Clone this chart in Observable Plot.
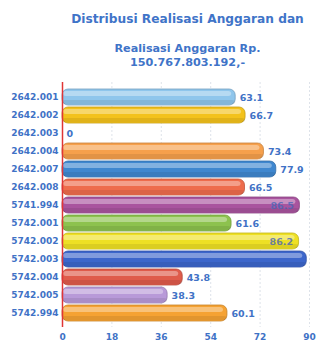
<!DOCTYPE html>
<html>
<head>
<meta charset="utf-8">
<script src="https://cdn.jsdelivr.net/npm/d3@7"></script>
<script src="https://cdn.jsdelivr.net/npm/@observablehq/plot@0.6"></script>
<style>
  body { margin: 0; background: #ffffff; width: 319px; height: 363px; overflow: hidden; font-family: "DejaVu Sans", Verdana, sans-serif; }
  #head { position: relative; height: 80px; color: #3f74c8; font-weight: bold; }
  #head div { position: absolute; left: 55px; width: 265px; text-align: center; white-space: nowrap; }
  #t1 { top: 12px; font-size: 12.2px; }
  #t2 { top: 42px; font-size: 11.2px; line-height: 14px; }
  #chart svg { display: block; }
</style>
</head>
<body>
<div id="head">
  <div id="t1">Distribusi Realisasi Anggaran dan</div>
  <div id="t2">Realisasi Anggaran Rp.<br>150.767.803.192,-</div>
</div>
<div id="chart"></div>
<script>
const categories = ["2642.001","2642.002","2642.003","2642.004","2642.007","2642.008","5741.994","5742.001","5742.002","5742.003","5742.004","5742.005","5742.994"];
const values = [63.1, 66.7, 0, 73.4, 77.9, 66.5, 86.5, 61.6, 86.2, 89.0, 43.8, 38.3, 60.1];
// label of 5742.003 is not visible in the reference
const valueLabels = ["63.1","66.7","0","73.4","77.9","66.5","86.5","61.6","86.2","","43.8","38.3","60.1"];
const colors = ["#8fc6ec","#f3c21c","#cccccc","#f6a04c","#3f87cf","#ee6c4c","#a9549e","#8dc24e","#eee024","#3c66cb","#df5b4b","#b89ad8","#f5a233"];
const xTicks = [0, 18, 36, 54, 72, 90];

const data = categories.map((c, i) => ({cat: c, v: values[i], label: valueLabels[i], color: colors[i]}));
const inside = d => d.v > 80;
const txtColor = "#3f72c6";

const plot = Plot.plot({
  width: 319,
  height: 283,
  marginTop: 2,
  marginBottom: 36,
  marginLeft: 62,
  marginRight: 10,
  style: {background: "transparent", fontFamily: "DejaVu Sans, Verdana, sans-serif"},
  x: {domain: [0, 90], ticks: xTicks, label: null},
  y: {domain: categories, label: null, padding: 0.13},
  marks: [
    Plot.ruleX(xTicks.slice(1), {stroke: "#c8d0dc", strokeOpacity: 0.6, strokeDasharray: "2,2"}),
    Plot.barX(data, {y: "cat", x: "v", fill: d => d.color, stroke: d => d3.color(d.color).darker(0.6).formatHex(), strokeWidth: 0.8, rx: 6}),
    Plot.barX(data, {y: "cat", x: "v", fill: "white", fillOpacity: 0.35, insetTop: 2, insetBottom: 9, insetRight: 4, insetLeft: 1, rx: 3}),
    Plot.barX(data, {y: "cat", x: "v", fill: "black", fillOpacity: 0.08, insetTop: 11, insetBottom: 1, rx: 3}),
    Plot.text(data.filter(d => !inside(d)), {y: "cat", x: "v", text: "label", dx: 4, textAnchor: "start", fill: txtColor, fontWeight: "bold", fontSize: 9.5}),
    Plot.text(data.filter(inside), {y: "cat", x: "v", text: "label", dx: -6, textAnchor: "end", fill: "#4a66b8", fillOpacity: 0.8, fontWeight: "bold", fontSize: 9.5}),
    Plot.ruleX([0], {stroke: "#e03535", strokeWidth: 1.5}),
    Plot.axisY({tickSize: 0, tickPadding: 4, fill: txtColor, fontWeight: "bold", fontSize: 9}),
    Plot.axisX({ticks: xTicks, tickSize: 0, tickPadding: 6, fill: txtColor, fontWeight: "bold", fontSize: 9, tickFormat: d => String(d)})
  ]
});
document.getElementById("chart").appendChild(plot);
</script>
</body>
</html>
